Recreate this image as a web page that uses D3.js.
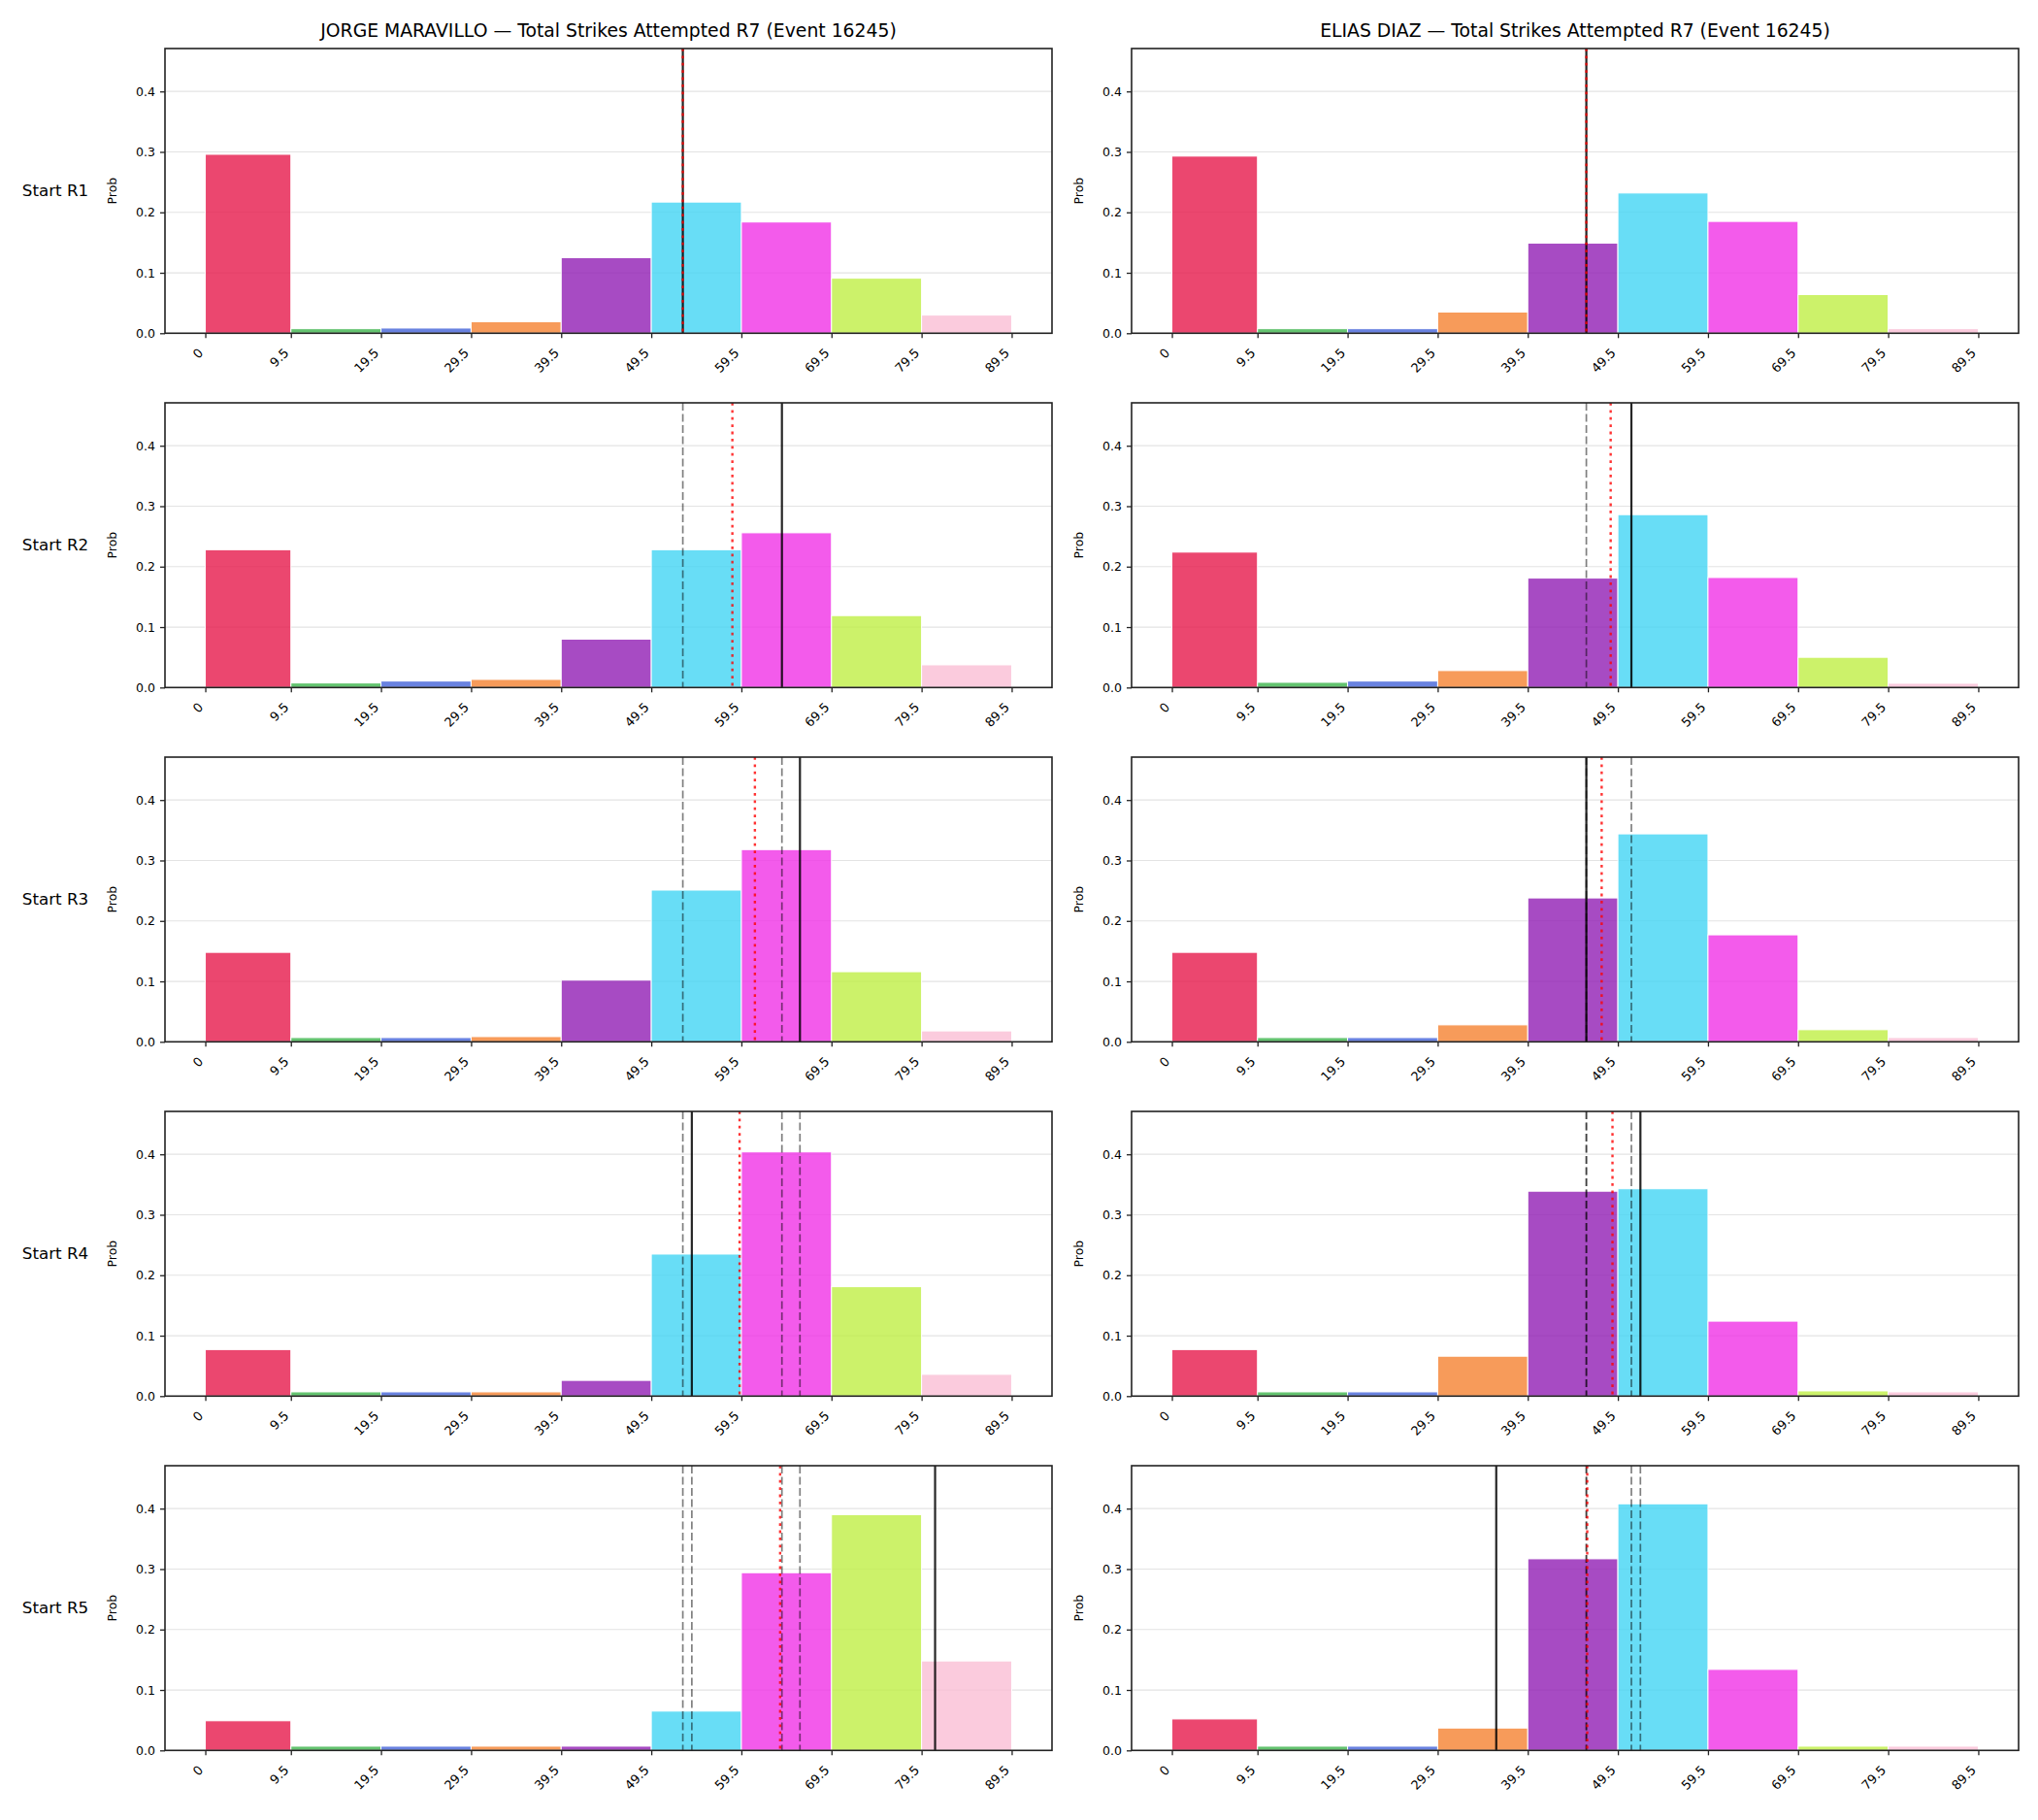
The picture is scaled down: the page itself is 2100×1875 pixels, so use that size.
<!DOCTYPE html>
<html>
<head>
<meta charset="utf-8" />
<style>
  body { margin: 0; background: #fff; }
  svg { display: block; font-family: "DejaVu Sans", sans-serif; }
</style>
<title>Total Strikes Attempted R7</title>
</head>
<body>
<script src="https://cdn.jsdelivr.net/npm/d3@7"></script>
<script>
// bins: first edge 0, then 9.5 .. 89.5
const binEdges = [0, 9.5, 19.5, 29.5, 39.5, 49.5, 59.5, 69.5, 79.5, 89.5];
const tickLabels = ["0", "9.5", "19.5", "29.5", "39.5", "49.5", "59.5", "69.5", "79.5", "89.5"];
const yTicks = [0, 0.1, 0.2, 0.3, 0.4];
const rounds = ["Start R1", "Start R2", "Start R3", "Start R4", "Start R5"];
const fighters = ["JORGE MARAVILLO", "ELIAS DIAZ"];
const titleSuffix = " — Total Strikes Attempted R7 (Event 16245)";
const binColors = ["#e6194b", "#3cb44b", "#4363d8", "#f58231", "#911eb4", "#42d4f4", "#f032e6", "#bfef45", "#fabed4"];

// probabilities per bin, one row per starting round
const maravilloProbs = [
  [0.296, 0.0075, 0.0086, 0.019, 0.125, 0.217, 0.184, 0.091, 0.030],
  [0.228, 0.0075, 0.0107, 0.0134, 0.080, 0.228, 0.256, 0.119, 0.0375],
  [0.148, 0.007, 0.007, 0.0086, 0.102, 0.251, 0.318, 0.116, 0.018],
  [0.077, 0.007, 0.007, 0.007, 0.026, 0.235, 0.404, 0.181, 0.036],
  [0.049, 0.007, 0.007, 0.007, 0.007, 0.065, 0.294, 0.390, 0.148]
];
const diazProbs = [
  [0.293, 0.0075, 0.0075, 0.035, 0.149, 0.232, 0.185, 0.064, 0.0075],
  [0.224, 0.0086, 0.0107, 0.028, 0.181, 0.286, 0.182, 0.050, 0.007],
  [0.148, 0.007, 0.007, 0.028, 0.238, 0.344, 0.177, 0.020, 0.007],
  [0.077, 0.007, 0.007, 0.066, 0.339, 0.343, 0.124, 0.0086, 0.007],
  [0.052, 0.007, 0.007, 0.037, 0.317, 0.408, 0.134, 0.007, 0.007]
];
// solid line per round (earlier rounds shown dashed), red dotted per round
const maravilloLine = [53, 64, 66, 54, 81];
const maravilloRed = [53, 58.5, 61, 59.3, 63.8];
const diazLine = [46, 51, 46, 52, 36];
const diazRed = [46, 48.7, 47.7, 48.9, 46.1];

const panels = [
  { probs: maravilloProbs, line: maravilloLine, red: maravilloRed },
  { probs: diazProbs, line: diazLine, red: diazRed }
];

const W = 2100, H = 1875;
const colLeft = [170, 1166];
const axW = 914, axH = 293.3;
const rowTop = rounds.map((r, i) => 50 + i * 365);

const svg = d3.select("body").append("svg").attr("width", W).attr("height", H);

const x = d3.scaleLinear().domain([-4.475, 93.975]).range([0, axW]);
const y = d3.scaleLinear().domain([0, 0.471]).range([axH, 0]);

// column titles
fighters.forEach((f, c) => {
  svg.append("text")
    .attr("x", colLeft[c] + axW / 2)
    .attr("y", rowTop[0] - 12)
    .attr("text-anchor", "middle")
    .attr("font-size", "18.8px")
    .attr("fill", "#000")
    .text(f + titleSuffix);
});

// row labels
rounds.forEach((r, i) => {
  svg.append("text")
    .attr("x", 57)
    .attr("y", rowTop[i] + axH / 2)
    .attr("dy", "0.35em")
    .attr("text-anchor", "middle")
    .attr("font-size", "16.7px")
    .attr("fill", "#000")
    .text(r);
});

panels.forEach((p, c) => {
  rounds.forEach((r, i) => {
    const g = svg.append("g").attr("transform", `translate(${colLeft[c]},${rowTop[i]})`);

    // grid
    g.selectAll(".grid")
      .data(yTicks.slice(1))
      .join("line")
      .attr("x1", 0).attr("x2", axW)
      .attr("y1", d => y(d)).attr("y2", d => y(d))
      .attr("stroke", "#e3e3e3")
      .attr("stroke-width", 1.2);

    // bars
    const bars = p.probs[i].map((v, k) => ({ x0: binEdges[k], x1: binEdges[k + 1], v: v, k: k }));
    g.selectAll(".bar")
      .data(bars)
      .join("rect")
      .attr("x", d => x(d.x0))
      .attr("width", d => x(d.x1) - x(d.x0))
      .attr("y", d => y(d.v))
      .attr("height", d => y(0) - y(d.v))
      .attr("fill", d => binColors[d.k])
      .attr("fill-opacity", 0.8)
      .attr("stroke", "#fff")
      .attr("stroke-width", 1);

    // previous rounds' lines, dashed
    g.selectAll(".prev")
      .data(p.line.slice(0, i))
      .join("line")
      .attr("x1", d => x(d)).attr("x2", d => x(d))
      .attr("y1", 0).attr("y2", axH)
      .attr("stroke", "#000")
      .attr("stroke-opacity", 0.5)
      .attr("stroke-width", 1.7)
      .attr("stroke-dasharray", "8,3.5");

    // current line
    g.append("line")
      .attr("x1", x(p.line[i])).attr("x2", x(p.line[i]))
      .attr("y1", 0).attr("y2", axH)
      .attr("stroke", "#000")
      .attr("stroke-opacity", 0.85)
      .attr("stroke-width", 2.2);

    // red dotted
    g.append("line")
      .attr("x1", x(p.red[i])).attr("x2", x(p.red[i]))
      .attr("y1", 0).attr("y2", axH)
      .attr("stroke", "red")
      .attr("stroke-opacity", 0.8)
      .attr("stroke-width", 2.4)
      .attr("stroke-dasharray", "2.8,4.6");

    // axes
    const xa = g.append("g").attr("transform", `translate(0,${axH})`)
      .call(d3.axisBottom(x).tickValues(binEdges).tickFormat((d, k) => tickLabels[k]).tickSize(5));
    xa.select(".domain").remove();
    xa.selectAll(".tick line").attr("stroke", "#222").attr("stroke-width", 1.3);
    xa.selectAll(".tick text")
      .attr("y", 0).attr("dy", null)
      .attr("text-anchor", "end")
      .attr("transform", "translate(-2,21) rotate(-45)")
      .attr("font-size", "13px")
      .attr("font-family", "DejaVu Sans")
      .attr("fill", "#000");

    const ya = g.append("g")
      .call(d3.axisLeft(y).tickValues(yTicks).tickFormat(d3.format(".1f")).tickSize(5).tickPadding(5));
    ya.select(".domain").remove();
    ya.selectAll(".tick line").attr("stroke", "#222").attr("stroke-width", 1.3);
    ya.selectAll(".tick text")
      .attr("font-size", "12.5px")
      .attr("font-family", "DejaVu Sans")
      .attr("fill", "#000");

    // y label
    g.append("text")
      .attr("transform", `translate(-54,${axH / 2}) rotate(-90)`)
      .attr("text-anchor", "middle")
      .attr("dy", "0.35em")
      .attr("font-size", "12.5px")
      .attr("fill", "#000")
      .text("Prob");

    // spines
    g.append("rect")
      .attr("width", axW).attr("height", axH)
      .attr("fill", "none")
      .attr("stroke", "#222")
      .attr("stroke-width", 1.6);
  });
});
</script>
</body>
</html>
